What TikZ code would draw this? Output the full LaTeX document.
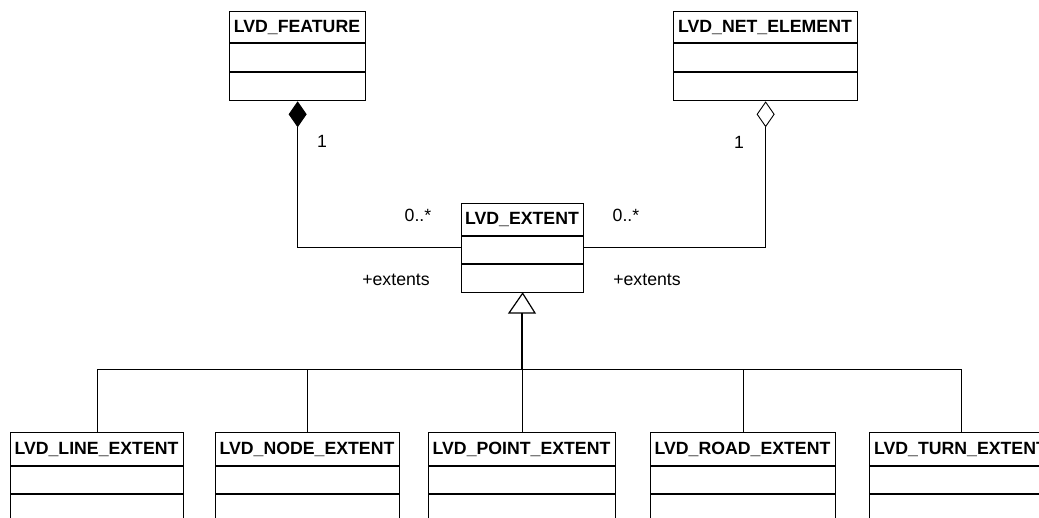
\documentclass[tikz,border=0pt]{standalone}
\usepackage{fontspec}
\setmainfont{Liberation Sans}
\usetikzlibrary{arrows.meta}
\tikzset{
  classbox/.style={draw=black, line width=1.3pt, fill=white, inner sep=0pt},
  compline/.style={draw=black, line width=1.3pt},
  titletext/.style={font=\fontsize{17.7}{20}\selectfont\bfseries, inner sep=0pt},
  labeltext/.style={font=\fontsize{17.7}{20}\selectfont, inner sep=0pt},
  assoc/.style={draw=black, line width=0.9pt},
  genline/.style={draw=black, line width=0.9pt},
}
% \umlbox{name}{x1}{y1}{x2}{y2}{title}{line1 y}{line2 y}
\newcommand\umlbox[8]{%
  \node[classbox, minimum width={(#4)-(#2)}, minimum height={(#5)-(#3)}, anchor=north west] (#1) at (#2,#3) {};
  \node[titletext] (#1T) at ({((#2)+(#4))/2},{((#3)+(#7))/2}) {#6};
  \draw[compline] (#2,#7) -- (#4,#7);
  \draw[compline] (#2,#8) -- (#4,#8);
}
\begin{document}
\begin{tikzpicture}[x=1pt,y=-1pt]
\useasboundingbox (0,0) rectangle (1039,518);
\clip (0,0) rectangle (1039,518);

\umlbox{feat}{229}{11}{365}{100}{LVD\_FEATURE}{43}{72}
\umlbox{net}{673}{11}{857}{100}{LVD\_NET\_ELEMENT}{43}{72}
\umlbox{ext}{461}{203}{583}{292}{LVD\_EXTENT}{236}{264}

\umlbox{line}{10}{432}{183}{540}{LVD\_LINE\_EXTENT}{466}{494}
\umlbox{nodeext}{215}{432}{399}{540}{LVD\_NODE\_EXTENT}{466}{494}
\umlbox{point}{428}{432}{615}{540}{LVD\_POINT\_EXTENT}{466}{494}
\umlbox{road}{650}{432}{835}{540}{LVD\_ROAD\_EXTENT}{466}{494}
\umlbox{turn}{869}{432}{1052}{540}{LVD\_TURN\_EXTENT}{466}{494}

% associations
\draw[assoc, -{Diamond[length=26pt,width=18pt,fill=black]}] (ext.west |- 0,247) -| (feat.south);
\draw[assoc, -{Diamond[length=26pt,width=18pt,open,line width=0.9pt]}] (ext.east |- 0,247) -| (net.south);

\node[labeltext] (m1) at (322,141) {1};
\node[labeltext] (m2) at (739,142) {1};
\node[labeltext] (m3) at (418,215) {0..*};
\node[labeltext] (m4) at (626,215) {0..*};
\node[labeltext] (r1) at (396,280) {+extents};
\node[labeltext] (r2) at (647,280) {+extents};

% generalization
\coordinate (bus) at (522,369);
\draw[black, line width=2pt] (bus) -- (522,313);
\draw[black, line width=1.2pt, fill=white] (ext.south) -- (535,313) -- (509,313) -- cycle;
\draw[genline] (line.north) -- (line.north |- bus) -- (turn.north |- bus) -- (turn.north);
\draw[genline] (nodeext.north) -- (nodeext.north |- bus);
\draw[genline] (point.north) -- (point.north |- bus);
\draw[genline] (road.north) -- (road.north |- bus);
\end{tikzpicture}
\end{document}
